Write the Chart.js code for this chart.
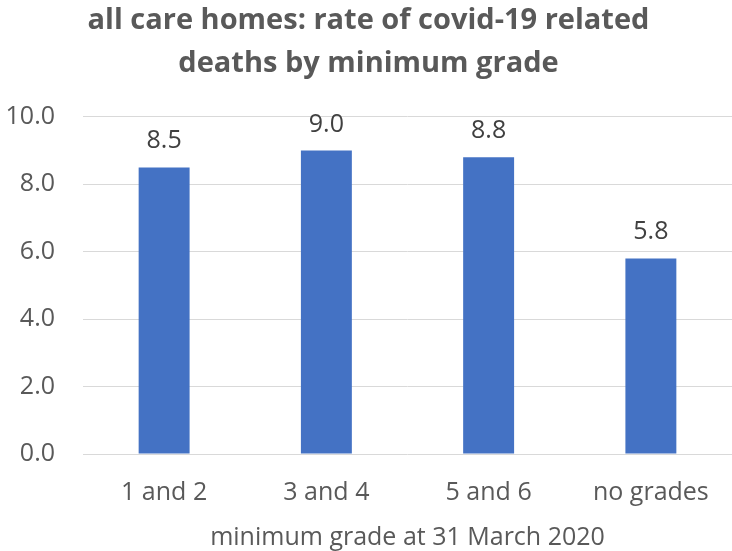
<!DOCTYPE html>
<html>
<head>
<meta charset="utf-8">
<script src="https://cdn.jsdelivr.net/npm/chart.js@4/dist/chart.umd.min.js"></script>
<style>
  html, body { margin: 0; padding: 0; background: #fff; }
  canvas { display: block; }
</style>
</head>
<body>
<canvas id="chart" width="732" height="551"></canvas>
<script>
// ── Data ──────────────────────────────────────────────────────────────────────
const categories = ["1 and 2", "3 and 4", "5 and 6", "no grades"];
const rates      = [8.5, 9.0, 8.8, 5.8];
const titleLines = ["all care homes: rate of covid-19 related", "deaths by minimum grade"];
const xTitle     = "minimum grade at 31 March 2020";

const FONT = "'Open Sans', 'DejaVu Sans', sans-serif";
const GREY = "#595959";

// value labels above each bar
const barLabels = {
  id: "barLabels",
  afterDatasetsDraw(chart) {
    const ctx = chart.ctx;
    const meta = chart.getDatasetMeta(0);
    ctx.save();
    ctx.font = `25px ${FONT}`;
    ctx.fillStyle = "#404040";
    ctx.textAlign = "center";
    ctx.textBaseline = "alphabetic";
    meta.data.forEach((bar, i) => {
      ctx.fillText(rates[i].toFixed(1), bar.x, bar.y - 19);
    });
    ctx.restore();
  },
};

const ctx = document.getElementById("chart").getContext("2d");
new Chart(ctx, {
  type: "bar",
  data: {
    labels: categories,
    datasets: [{
      data: rates,
      backgroundColor: "#4472C4",
      borderWidth: 0,
      barPercentage: 0.314,
      categoryPercentage: 1,
    }],
  },
  options: {
    responsive: false,
    animation: false,
    layout: { padding: { left: 5, right: 0, top: 0, bottom: 0 } },
    plugins: {
      legend: { display: false },
      tooltip: { enabled: false },
      title: {
        display: true,
        text: titleLines,
        color: GREY,
        font: { family: FONT, size: 29, weight: "bold", lineHeight: 1.48 },
        padding: { top: -1, bottom: 32 },
      },
    },
    scales: {
      x: {
        grid: { display: false },
        border: { display: false },
        ticks: { color: GREY, font: { family: FONT, size: 25 }, padding: 16 },
        title: { display: true, text: xTitle, color: GREY, font: { family: FONT, size: 25 }, padding: { top: -1, bottom: -2 } },
      },
      y: {
        min: 0,
        max: 10,
        afterFit: s => { s.width = 78; },
        ticks: {
          stepSize: 2,
          color: GREY,
          font: { family: FONT, size: 25 },
          padding: 28,
          callback: v => v.toFixed(1),
        },
        grid: { color: "#d9d9d9", lineWidth: 1, drawTicks: false },
        border: { display: false },
      },
    },
  },
  plugins: [barLabels],
});
</script>
</body>
</html>
